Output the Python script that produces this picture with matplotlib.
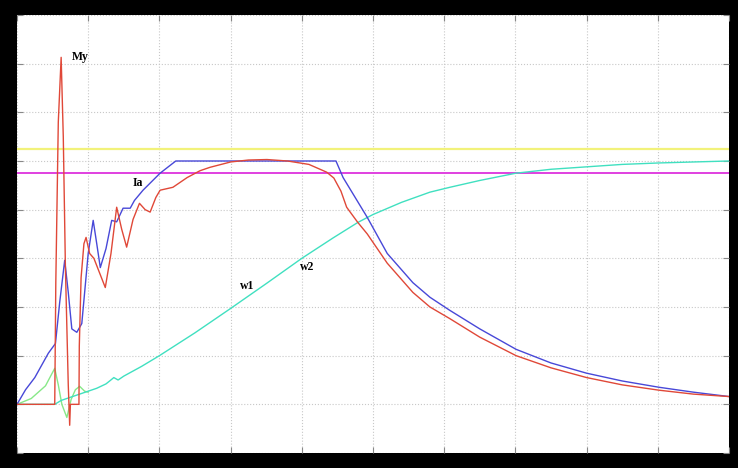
import matplotlib.pyplot as plt
import numpy as np

# time axis 0..10
my_t = [0, 0.53, 0.545, 0.58, 0.62, 0.65, 0.68, 0.72, 0.74, 0.75, 0.87, 0.875, 0.90, 0.94, 0.97,
        1.02, 1.08, 1.16, 1.24, 1.32, 1.40, 1.47, 1.54, 1.63, 1.72, 1.80, 1.87, 1.95, 2.01, 2.10,
        2.19, 2.39, 2.57, 2.71, 3.0, 3.25, 3.51, 3.8, 4.1, 4.35, 4.45, 4.55, 4.63, 4.78, 4.92,
        5.2, 5.56, 5.8, 6.08, 6.5, 7.01, 7.5, 8.0, 8.5, 9.02, 9.5, 10]
my_v = [0, 0, 2.5, 5.8, 7.13, 5.5, 2.8, 0.4, -0.43, 0, 0, 1.2, 2.6, 3.3, 3.43,
        3.1, 3.0, 2.7, 2.4, 3.1, 4.05, 3.6, 3.23, 3.8, 4.13, 4.0, 3.95, 4.25, 4.4, 4.43,
        4.46, 4.66, 4.8, 4.87, 4.98, 5.02, 5.03, 5.0, 4.93, 4.77, 4.65, 4.38, 4.05, 3.75, 3.5,
        2.9, 2.3, 2.0, 1.76, 1.38, 1.0, 0.75, 0.55, 0.4, 0.29, 0.21, 0.16]

ia_t = [0, 0.04, 0.12, 0.25, 0.44, 0.54, 0.60, 0.67, 0.72, 0.77, 0.84, 0.91, 1.0, 1.07, 1.12,
        1.17, 1.25, 1.33, 1.40, 1.49, 1.59, 1.65, 1.77, 2.01, 2.23, 4.48, 4.58, 4.92, 5.2,
        5.56, 5.8, 6.08, 6.5, 7.01, 7.5, 8.0, 8.5, 9.02, 9.5, 10]
ia_v = [0, 0.1, 0.3, 0.55, 1.05, 1.25, 2.1, 2.96, 2.3, 1.55, 1.48, 1.66, 3.1, 3.78, 3.3,
        2.81, 3.2, 3.78, 3.75, 4.03, 4.03, 4.19, 4.4, 4.75, 5.0, 5.0, 4.66, 3.84, 3.1,
        2.5, 2.2, 1.93, 1.55, 1.13, 0.85, 0.64, 0.48, 0.35, 0.25, 0.16]

w1_t = [0, 0.2, 0.4, 0.53, 0.58, 0.63, 0.70, 0.76, 0.82, 0.88, 0.95, 1.0]
w1_v = [0, 0.12, 0.38, 0.74, 0.4, 0.0, -0.27, 0.1, 0.3, 0.37, 0.27, 0.25]

w2_t = [0, 0.53, 0.62, 0.70, 0.80, 0.90, 1.0, 1.12, 1.25, 1.31, 1.36, 1.42, 1.5, 1.75,
        2.0, 2.5, 3.0, 3.5, 4.0, 4.44, 4.79, 5.0, 5.4, 5.8, 6.08, 6.5, 7.01, 7.5, 8.0,
        8.5, 9.02, 9.5, 10]
w2_v = [0, 0, 0.08, 0.12, 0.17, 0.22, 0.27, 0.33, 0.42, 0.49, 0.55, 0.5, 0.58, 0.78,
        1.0, 1.47, 1.97, 2.48, 3.0, 3.42, 3.74, 3.9, 4.15, 4.36, 4.46, 4.6, 4.75, 4.83, 4.88,
        4.93, 4.96, 4.98, 5.0]

limit_hi = 5.24
limit_lo = 4.75

fig = plt.figure(figsize=(7.38, 4.68), dpi=100, facecolor='black')
ax = fig.add_axes([17 / 738, 15 / 468, 712 / 738, 438 / 468])
ax.set_facecolor('white')

ax.axhline(limit_hi, color='#f2f27a', lw=1.6)
ax.axhline(limit_lo, color='#e040e0', lw=1.4)
ax.plot(w1_t, w1_v, color='#88e888', lw=1.0)
ax.plot(w2_t, w2_v, color='#40e0c0', lw=1.0)
ax.plot(ia_t, ia_v, color='#4848d8', lw=1.0)
ax.plot(my_t, my_v, color='#e04838', lw=1.0)

lbl = dict(fontfamily='Liberation Serif', fontweight='bold', fontsize=8.5, color='black')
ax.text(0.77, 7.07, 'My', **lbl)
ax.text(1.63, 4.48, 'Ia', **lbl)
ax.text(3.13, 2.38, 'w1', **lbl)
ax.text(3.97, 2.75, 'w2', **lbl)

ax.set_xlim(0, 10)
ax.set_ylim(-1, 8)
ax.set_xticks(np.arange(0, 11, 1))
ax.set_yticks(np.arange(-1, 9, 1))
ax.grid(True, color='#c8c8c8', linestyle=':', lw=0.8)
ax.tick_params(direction='in', length=4, color='#888888', labelleft=False, labelbottom=False,
               top=True, right=True)
for s in ax.spines.values():
  s.set_visible(False)

plt.savefig('out.png', dpi=100, facecolor='black')
